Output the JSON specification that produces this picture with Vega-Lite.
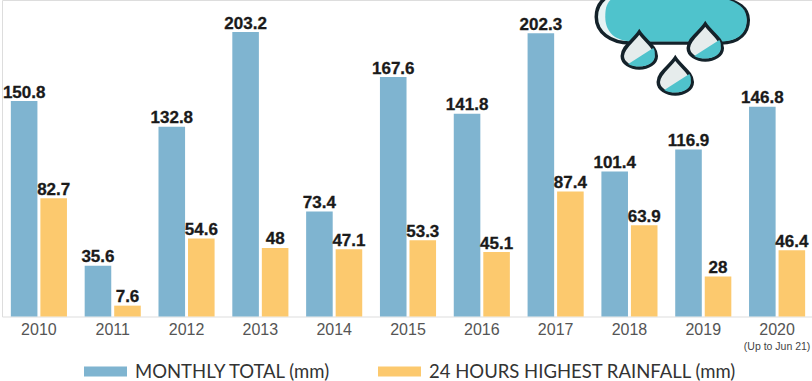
{
 "$schema":"https://vega.github.io/schema/vega-lite/v6.json",
 "width":812,"height":316.5,
 "autosize":"none",
 "padding":{"left":2,"top":0,"right":0,"bottom":64.5},
 "background":"#ffffff",
 "data":{"values":[
 {"year":"2010","series":"MONTHLY TOTAL (mm)","value":150.8},
 {"year":"2010","series":"24 HOURS HIGHEST RAINFALL (mm)","value":82.7},
 {"year":"2011","series":"MONTHLY TOTAL (mm)","value":35.6},
 {"year":"2011","series":"24 HOURS HIGHEST RAINFALL (mm)","value":7.6},
 {"year":"2012","series":"MONTHLY TOTAL (mm)","value":132.8},
 {"year":"2012","series":"24 HOURS HIGHEST RAINFALL (mm)","value":54.6},
 {"year":"2013","series":"MONTHLY TOTAL (mm)","value":203.2},
 {"year":"2013","series":"24 HOURS HIGHEST RAINFALL (mm)","value":48},
 {"year":"2014","series":"MONTHLY TOTAL (mm)","value":73.4},
 {"year":"2014","series":"24 HOURS HIGHEST RAINFALL (mm)","value":47.1},
 {"year":"2015","series":"MONTHLY TOTAL (mm)","value":167.6},
 {"year":"2015","series":"24 HOURS HIGHEST RAINFALL (mm)","value":53.3},
 {"year":"2016","series":"MONTHLY TOTAL (mm)","value":141.8},
 {"year":"2016","series":"24 HOURS HIGHEST RAINFALL (mm)","value":45.1},
 {"year":"2017","series":"MONTHLY TOTAL (mm)","value":202.3},
 {"year":"2017","series":"24 HOURS HIGHEST RAINFALL (mm)","value":87.4},
 {"year":"2018","series":"MONTHLY TOTAL (mm)","value":101.4},
 {"year":"2018","series":"24 HOURS HIGHEST RAINFALL (mm)","value":63.9},
 {"year":"2019","series":"MONTHLY TOTAL (mm)","value":116.9},
 {"year":"2019","series":"24 HOURS HIGHEST RAINFALL (mm)","value":28},
 {"year":"2020","series":"MONTHLY TOTAL (mm)","value":146.8},
 {"year":"2020","series":"24 HOURS HIGHEST RAINFALL (mm)","value":46.4}
 ]},
 "encoding":{
  "x":{"field":"year","type":"nominal","scale":{"paddingInner":0.24,"paddingOuter":0.12},"axis":{"title":null,"labelAngle":0,"domain":false,"ticks":false,"labelFont":"Liberation Sans","labelFontSize":16,"labelColor":"#555555","labelPadding":5}},
  "y":{"field":"value","type":"quantitative","scale":{"domain":[0,167.6,203.2],"range":[316.5,77,32]},"axis":null}
 },
 "layer":[
  {"mark":{"type":"bar"},"encoding":{
    "xOffset":{"field":"series","type":"nominal","sort":["MONTHLY TOTAL (mm)","24 HOURS HIGHEST RAINFALL (mm)"],"scale":{"paddingInner":0.1,"paddingOuter":0}},
    "color":{"field":"series","type":"nominal","sort":["MONTHLY TOTAL (mm)","24 HOURS HIGHEST RAINFALL (mm)"],"scale":{"range":["#7fb4d0","#fcc96e"]},"legend":{"title":null,"orient":"none","legendX":82,"legendY":350,"direction":"horizontal","columns":2,"symbolType":"M-1,-0.23H1V0.23H-1Z","symbolSize":1849,"symbolStrokeWidth":0,"symbolOpacity":1,"labelFont":"Lato","labelFontSize":18.5,"labelColor":"#333333","labelLimit":400,"columnPadding":47,"labelOffset":8}}}},
  {"mark":{"type":"text","dy":-8.5,"font":"Liberation Sans","fontWeight":"bold","fontSize":17,"color":"#1a1a1a","stroke":"#1a1a1a","strokeWidth":0.3},"encoding":{
    "xOffset":{"field":"series","type":"nominal","sort":["MONTHLY TOTAL (mm)","24 HOURS HIGHEST RAINFALL (mm)"]},
    "text":{"field":"value","type":"quantitative"}}},
  {"data":{"values":[{"year":"2020","value":0,"note":"(Up to Jun 21)"}]},"mark":{"type":"text","font":"Liberation Sans","fontSize":10.5,"color":"#444444","dy":30,"clip":false},
   "encoding":{"text":{"field":"note","type":"nominal"}}},
  {"data":{"values":[{"year":"2019","value":203.2}]},"mark":{"type":"point","filled":true,"opacity":1,"size":4,"fill":"#e6f3f4","stroke":"#14222a","strokeWidth":3.5,"shape":"M-73,11 L17,11 C37,11 45,0 45,-12 C45,-24 35,-30 19,-34 L-93,-37 C-103,-32 -107,-24 -107,-15 C-107,0 -93,11 -73,11 Z"}},
  {"data":{"values":[{"year":"2019","value":203.2}]},"mark":{"type":"point","filled":true,"opacity":1,"size":4,"fill":"#4fc3cc","strokeWidth":0,"shape":"M-70,9.5 L17,9.5 C36,9.5 43.5,0 43.5,-12 C43.5,-24 35,-30 19,-34 L-85,-37 C-97,-32 -98,-24 -98,-15 C-98,0 -88,9.5 -70,9.5 Z"}},
  {"data":{"values":[{"year":"2019","value":203.2}]},"mark":{"type":"point","filled":true,"opacity":1,"size":4,"fill":"#e6ecec","stroke":"#14222a","strokeWidth":3.5,"shape":"M-64,0 C-58,9 -47,15 -47,24 C-47,31 -55,36 -64,36 C-73,36 -81,31 -81,24 C-81,15 -70,9 -64,0 Z M2,-8 C8,1 19,7 19,16 C19,23 11,28 2,28 C-7,28 -15,23 -15,16 C-15,7 -4,1 2,-8 Z M-28,26 C-22,35 -11,41 -11,50 C-11,57 -19,62 -28,62 C-37,62 -45,57 -45,50 C-45,41 -34,35 -28,26 Z"}},
  {"data":{"values":[{"year":"2019","value":203.2}]},"mark":{"type":"point","filled":true,"opacity":1,"size":4,"fill":"#4fc3cc","strokeWidth":0,"shape":"M-50,16 C-48,19 -48.5,21 -48.5,24 C-48.5,30 -55,34.5 -64,34.5 C-68,34.5 -72,34 -75,32 Z M16,8 C18,11 17.5,13 17.5,16 C17.5,22 11,26.5 2,26.5 C-2,26.5 -6,26 -9,24 Z M-14,42 C-12,45 -12.5,47 -12.5,50 C-12.5,56 -19,60.5 -28,60.5 C-32,60.5 -36,60 -39,58 Z"}}
 ]
}
